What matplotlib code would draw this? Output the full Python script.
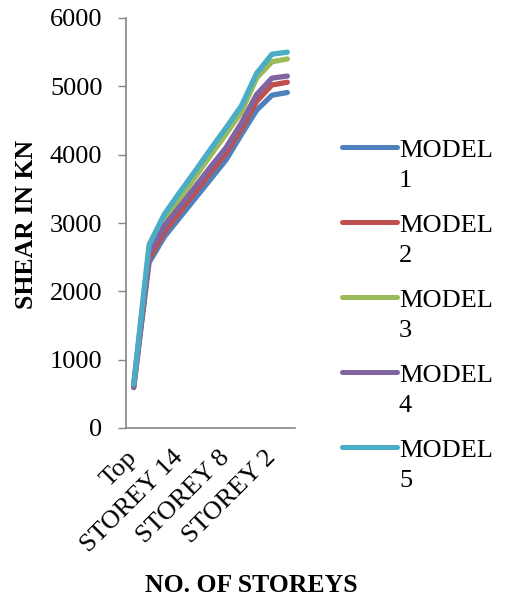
import matplotlib.pyplot as plt
from matplotlib.lines import Line2D

# storey levels (only every third one is labelled on the axis)
storeys = ["Top", "STOREY 18", "STOREY 16", "STOREY 14", "STOREY 12", "STOREY 10",
           "STOREY 8", "STOREY 6", "STOREY 4", "STOREY 2", "BASE"]

# storey shear (kN)
model_1 = [590, 2420, 2800, 3080, 3360, 3640, 3920, 4290, 4650, 4870, 4910]
model_2 = [600, 2470, 2870, 3160, 3450, 3740, 4020, 4370, 4780, 5020, 5060]
model_3 = [620, 2620, 3040, 3360, 3670, 3990, 4300, 4620, 5120, 5360, 5400]
model_4 = [610, 2550, 2960, 3240, 3530, 3820, 4100, 4460, 4880, 5120, 5150]
model_5 = [640, 2680, 3130, 3450, 3760, 4080, 4390, 4710, 5190, 5470, 5500]

series = [model_1, model_2, model_3, model_4, model_5]
names = ["MODEL\n1", "MODEL\n2", "MODEL\n3", "MODEL\n4", "MODEL\n5"]
colors = ['#4F81BD', '#C0504D', '#9BBB59', '#8064A2', '#4BACC6']

plt.rcParams['font.family'] = ['Liberation Serif', 'DejaVu Serif']

W, H = 506, 603
fig = plt.figure(figsize=(W / 100, H / 100), dpi=100)
ax = fig.add_axes([126 / W, 1 - 428 / H, 169 / W, 410 / H])

x = list(range(len(storeys)))
for vals, col in zip(series, colors):
    ax.plot(x, vals, color=col, lw=3.8, solid_capstyle='round', solid_joinstyle='round')

ax.set_xlim(-0.5, len(storeys) - 0.5)
ax.set_ylim(0, 6000)
ax.set_yticks(range(0, 6001, 1000))
ax.set_xticks(x[::3])
ax.set_xticklabels(storeys[::3], rotation=45, ha='right', va='center',
                   rotation_mode='anchor', fontsize=19)
ax.tick_params(axis='x', length=0, pad=19)
ax.tick_params(axis='y', length=6, width=1, color='#868686', labelsize=19, pad=11)

for side in ['top', 'right']:
    ax.spines[side].set_visible(False)
for side in ['left', 'bottom']:
    ax.spines[side].set_color('#868686')
    ax.spines[side].set_linewidth(1.2)

fig.text(27 / W, 1 - 224 / H, 'SHEAR IN KN', rotation=90, ha='center', va='center',
         fontsize=18.5, fontweight='bold')
fig.text(251 / W, 1 - 586 / H, 'NO. OF STOREYS', ha='center', va='center',
         fontsize=18.5, fontweight='bold')

# legend drawn by hand so the swatch sits on the first text line
for i, (nm, col) in enumerate(zip(names, colors)):
    yc = 147 + 75 * i
    fig.add_artist(Line2D([342 / W, 397 / W], [1 - yc / H, 1 - yc / H], color=col,
                          lw=3.6, solid_capstyle='round', transform=fig.transFigure))
    first, second = nm.split('\n')
    fig.text(399 / W, 1 - (yc + 10) / H, first, ha='left', va='baseline', fontsize=19)
    fig.text(399 / W, 1 - (yc + 40) / H, second, ha='left', va='baseline', fontsize=19)

plt.savefig('out.png', dpi=100)
